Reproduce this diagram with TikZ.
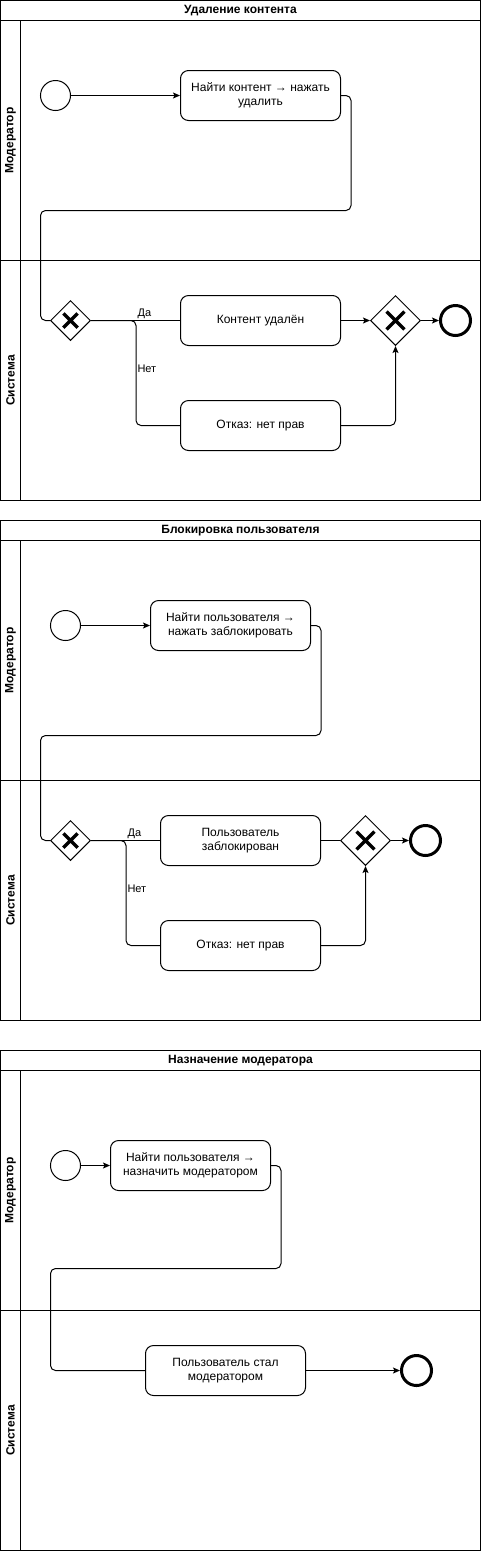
\documentclass[tikz,border=0pt]{standalone}
\usepackage{fontspec}
\setmainfont{Liberation Sans}
\usetikzlibrary{arrows.meta, shapes.geometric, calc}

\begin{document}
\begin{tikzpicture}[x=1pt, y=-1pt, line width=1pt,
        every node/.style={font=\fontsize{12}{14.5}\selectfont},
        flow/.style={draw, rounded corners=5pt},
        arr/.style={flow, -{Stealth[length=7pt, width=6pt, inset=1.5pt]}},
        lbl/.style={font=\fontsize{11}{12}\selectfont, inner sep=1pt},
        head/.style={font=\bfseries\fontsize{12}{14}\selectfont},
        startev/.style={circle, draw, minimum size=30pt, inner sep=0pt},
        endev/.style={circle, draw, line width=3pt, minimum size=30pt, inner sep=0pt},
        task/.style={rectangle, rounded corners=8pt, draw, minimum width=160pt,
            minimum height=50pt, align=center},
        gw/.style={diamond, draw, minimum size=#1, inner sep=0pt,
            path picture={
                \draw[line width=3.5pt]
                    ($(path picture bounding box.center)!0.36!(path picture bounding box.north west)$) --
                    ($(path picture bounding box.center)!0.36!(path picture bounding box.south east)$)
                    ($(path picture bounding box.center)!0.36!(path picture bounding box.north east)$) --
                    ($(path picture bounding box.center)!0.36!(path picture bounding box.south west)$);
            }},
    ]
    \useasboundingbox (-0.5,-0.5) rectangle (480.5,1550.5);

    % pools and lanes
    \foreach \top/\title [count=\i] in {0/{Удаление контента}, 520/{Блокировка пользователя}, 1050/{Назначение модератора}} {
        \draw (0,\top) rectangle (480,\top+500);
        \draw (0,\top+20) -- (480,\top+20);
        \draw (20,\top+20) -- (20,\top+500);
        \draw (0,\top+260) -- (480,\top+260);
        \node[head] (pool\i) at (240,\top+10) {\title};
        \node[head, rotate=90] (mod\i) at (10,\top+140) {Модератор};
        \node[head, rotate=90] (sys\i) at (10,\top+380) {Система};
    }

    % Удаление контента
    \node[startev] at (55, 95)   (s1) {};
    \node[task] at (260, 95)     (t1) {Найти контент → нажать\\удалить};
    \node[gw=40pt] at (70, 320)  (g1) {};
    \node[task] at (260, 320)    (ok1) {Контент удалён};
    \node[task] at (260, 425)    (no1) {Отказ: нет прав};
    \node[gw=50pt] at (395, 320) (m1) {};
    \node[endev] at (455, 320)   (e1) {};
    \draw [arr] (s1) -- (t1);
    \draw [flow] (t1.east) -- ++(10,0) |- (40,210) |- (g1.west);
    \draw [flow] (g1) -- node[lbl, above, pos=0.6] {Да} (ok1);
    \draw [flow] (g1.east) -- ++(45,0) |- node[lbl, right, pos=0.23] {Нет} (no1.west);
    \draw [arr] (ok1) -- (m1);
    \draw [arr] (no1.east) -| (m1.south);
    \draw [arr] (m1) -- (e1);

    % Блокировка пользователя
    \node[startev] at (65, 625)  (s2) {};
    \node[task] at (230, 625)    (t2) {Найти пользователя →\\нажать заблокировать};
    \node[gw=40pt] at (70, 840)  (g2) {};
    \node[task] at (240, 840)    (ok2) {Пользователь\\заблокирован};
    \node[task] at (240, 945)    (no2) {Отказ: нет прав};
    \node[gw=50pt] at (365, 840) (m2) {};
    \node[endev] at (425, 840)   (e2) {};
    \draw [arr] (s2) -- (t2);
    \draw [flow] (t2.east) -- ++(10,0) |- (40,735) |- (g2.west);
    \draw [flow] (g2) -- node[lbl, above, pos=0.63] {Да} (ok2);
    \draw [flow] (g2.east) -- ++(35,0) |- node[lbl, right, pos=0.23] {Нет} (no2.west);
    \draw [flow] (ok2) -- (m2);
    \draw [arr] (no2.east) -| (m2.south);
    \draw [arr] (m2) -- (e2);

    % Назначение модератора
    \node[startev] at (65, 1165) (s3) {};
    \node[task] at (190, 1165)   (t3) {Найти пользователя →\\назначить модератором};
    \node[task] at (225, 1370)   (t4) {Пользователь стал\\модератором};
    \node[endev] at (416, 1370)  (e3) {};
    \draw [arr] (s3) -- (t3);
    \draw [flow] (t3.east) -- ++(10,0) |- (50,1268) |- (t4.west);
    \draw [arr] (t4) -- (e3);
\end{tikzpicture}
\end{document}
